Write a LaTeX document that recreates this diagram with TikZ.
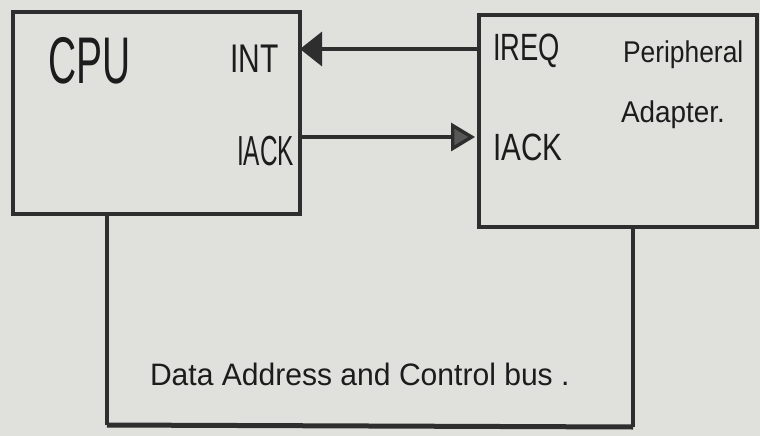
\documentclass[tikz,border=0pt]{standalone}
\usepackage{graphicx}
\usepackage{fontspec}
\setmainfont{Liberation Sans}
\usetikzlibrary{arrows.meta,calc}
\definecolor{paper}{HTML}{E0E1DD}
\definecolor{pencil}{HTML}{2E2E2E}
\definecolor{ink}{HTML}{1C1C1C}
\begin{document}
\begin{tikzpicture}[x=1pt,y=-1pt,
  box/.style={draw=pencil, line width=3.8pt, inner sep=0pt, outer sep=0pt},
  wire/.style={draw=pencil, line width=3.4pt},
  hand/.style={text=ink, inner sep=0pt, outer sep=0pt, anchor=base west},
  intarrow/.style={wire, -{Triangle[length=22pt,width=34pt]}},
  ackarrow/.style={wire, -{Triangle[length=24pt,width=28pt,fill=pencil!80]}},
]
% paper
\fill[paper] (0,0) rectangle (760,436);
\useasboundingbox (0,0) rectangle (760,436);

% the two blocks
\node[box, minimum width=287pt, minimum height=202pt] (cpu) at (156.5,113) {};
\node[box, minimum width=278pt, minimum height=212pt] (pa) at (618,121) {};

% bus region below the blocks
\coordinate (busL) at (107,425);
\coordinate (busR) at (633,427);
\draw[wire, line width=3.6pt] (cpu.south -| busL) -- (busL);
\draw[wire, line width=5pt] (busL) -- (busR);
\draw[wire, line width=3.6pt] (busR) -- (busR |- pa.south);

% labels
\node[hand, font=\fontsize{66}{66}\selectfont] (cpulbl) at (48,83) {\scalebox{0.59}[1]{CPU}};
\node[hand, font=\fontsize{40}{40}\selectfont] (int) at (230,72) {\scalebox{0.75}[1]{INT}};
\node[hand, font=\fontsize{42}{42}\selectfont] (iackc) at (237,165) {\scalebox{0.58}[1]{IACK}};
\node[hand, font=\fontsize{38}{38}\selectfont] (ireq) at (493,60) {\scalebox{0.72}[1]{IREQ}};
\node[hand, font=\fontsize{38}{38}\selectfont] (iackp) at (493,160) {\scalebox{0.78}[1]{IACK}};
\node[hand, font=\fontsize{30}{30}\selectfont] (pname) at (623,63) {\scalebox{0.88}[1]{Peripheral}};
\node[hand, font=\fontsize{30}{30}\selectfont] (aname) at (621,122) {\scalebox{0.93}[1]{Adapter.}};
\node[hand, font=\fontsize{31}{31}\selectfont] (bus) at (150,385) {\scalebox{0.97}[1]{Data Address and Control bus .}};

% handshake lines
\coordinate (introw) at (0,49);
\coordinate (ackrow) at (0,137);
\draw[intarrow] (pa.west |- introw) -- (cpu.east |- introw);
\draw[ackarrow] (cpu.east |- ackrow) -- ($(pa.west |- ackrow)+(-4,0)$);
\end{tikzpicture}
\end{document}
